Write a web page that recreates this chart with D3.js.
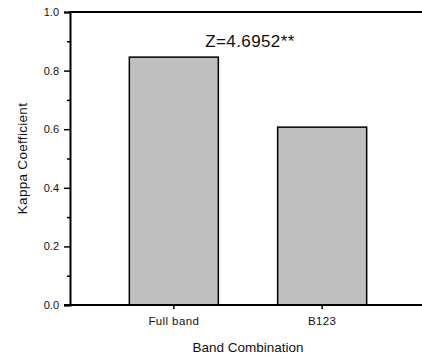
<!DOCTYPE html>
<html>
<head>
<meta charset="utf-8">
<script src="https://cdn.jsdelivr.net/npm/d3@7"></script>
<style>
	body { margin: 0; background: #fff; }
	text { font-family: 'Liberation Sans', Arial, sans-serif; fill: #111; }
</style>
</head>
<body>
<script>
// chart data
const categories = ['Full band', 'B123'];
const kappaValues = [0.846, 0.607];
const yTicks = [0, 0.2, 0.4, 0.6, 0.8, 1.0];
const yMinorTicks = [0.1, 0.3, 0.5, 0.7, 0.9];
const annotation = 'Z=4.6952**';

const width = 422;
const height = 356;
const margin = { top: 12, left: 70, bottom: 51 };

const BAR_FILL = '#c0c0c0';
const LINE_COLOR = '#000';

const svg = d3.select('body')
	.append('svg')
	.attr('width', width)
	.attr('height', height);

const x = d3.scaleBand()
	.domain(categories)
	.range([margin.left, 426])
	.paddingInner(0.4)
	.paddingOuter(0.4);

const y = d3.scaleLinear()
	.domain([0, 1])
	.range([height - margin.bottom, margin.top]);

// bars
svg.append('g')
	.selectAll('rect')
	.data(categories)
	.enter()
	.append('rect')
	.attr('x', d => x(d))
	.attr('y', (d, i) => y(kappaValues[i]))
	.attr('width', x.bandwidth())
	.attr('height', (d, i) => y(0) - y(kappaValues[i]))
	.attr('fill', BAR_FILL)
	.attr('stroke', LINE_COLOR)
	.attr('stroke-width', 1.5);

// y axis
const yAxis = svg.append('g')
	.attr('transform', `translate(${margin.left},0)`)
	.call(d3.axisLeft(y).tickValues(yTicks).tickFormat(d3.format('.1f')).tickSize(6).tickPadding(5));
yAxis.select('.domain').attr('stroke-width', 2);
yAxis.selectAll('.tick line').attr('stroke-width', 1.5);
yAxis.selectAll('text').attr('font-size', 11);

svg.append('g')
	.attr('transform', `translate(${margin.left},0)`)
	.call(d3.axisLeft(y).tickValues(yMinorTicks).tickFormat('').tickSize(3))
	.call(g => g.select('.domain').remove())
	.selectAll('.tick line').attr('stroke-width', 1.5);

// x axis
const xAxis = svg.append('g')
	.attr('transform', `translate(0,${y(0)})`)
	.call(d3.axisBottom(x).tickSize(4).tickPadding(8).tickSizeOuter(0));
xAxis.select('.domain').remove();
xAxis.selectAll('.tick line').attr('stroke-width', 1.5);
xAxis.selectAll('text').attr('font-size', 11.5).attr('letter-spacing', 0.4);

// baseline and top frame line
svg.append('line')
	.attr('x1', margin.left - 6).attr('x2', width)
	.attr('y1', y(0)).attr('y2', y(0))
	.attr('stroke', LINE_COLOR).attr('stroke-width', 2);
svg.append('line')
	.attr('x1', margin.left - 1).attr('x2', width)
	.attr('y1', y(1)).attr('y2', y(1))
	.attr('stroke', LINE_COLOR).attr('stroke-width', 2);

// axis titles
svg.append('text')
	.attr('x', (x(categories[0]) + x(categories[1]) + x.bandwidth()) / 2)
	.attr('y', 352)
	.attr('text-anchor', 'middle')
	.attr('font-size', 13.5)
	.text('Band Combination');

svg.append('text')
	.attr('transform', `translate(27,${(y(0) + y(1)) / 2}) rotate(-90)`)
	.attr('text-anchor', 'middle')
	.attr('font-size', 13.5)
	.attr('letter-spacing', 0.3)
	.text('Kappa Coefficient');

// significance label
svg.append('text')
	.attr('x', 250)
	.attr('y', 47)
	.attr('text-anchor', 'middle')
	.attr('font-size', 17)
	.attr('letter-spacing', 0.4)
	.text(annotation);
</script>
</body>
</html>
